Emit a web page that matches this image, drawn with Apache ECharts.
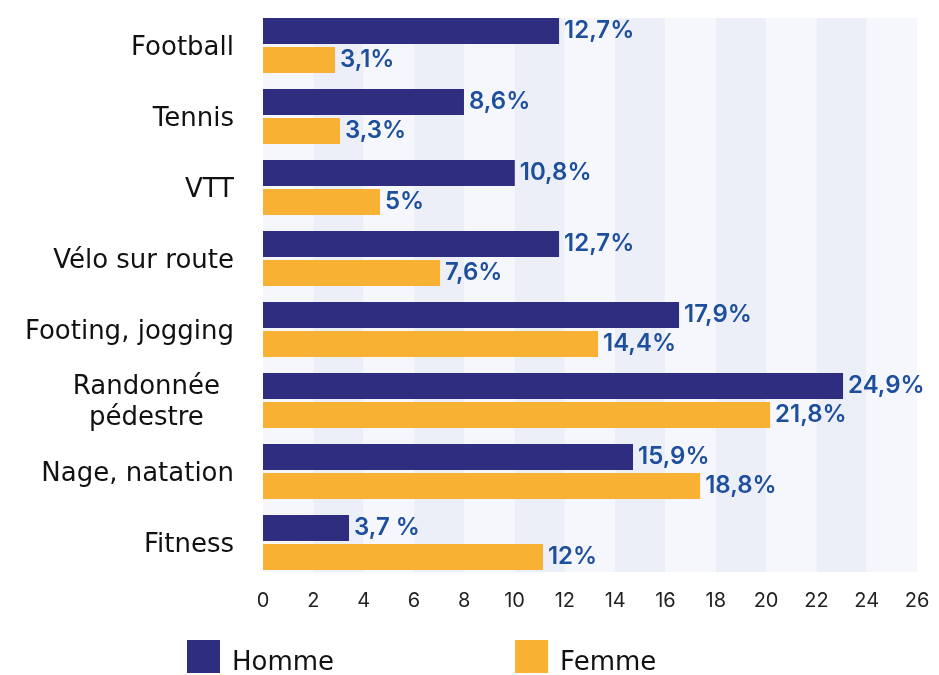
<!DOCTYPE html>
<html>
<head>
<meta charset="utf-8">
<script src="https://cdn.jsdelivr.net/npm/echarts@6/dist/echarts.min.js"></script>
<style>
  html, body { margin: 0; padding: 0; background: #fff; }
  #chart { width: 939px; height: 675px; }
</style>
</head>
<body>
<div id="chart"></div>
<script>
// sports, top to bottom
const categories = ['Football', 'Tennis', 'VTT', 'Vélo sur route', 'Footing, jogging', 'Randonnée\npédestre', 'Nage, natation', 'Fitness']
// bar lengths
const hommeValues = [11.77, 7.99, 10.01, 11.77, 16.54, 23.06, 14.71, 3.42]
const femmeValues = [2.86, 3.06, 4.65, 7.04, 13.32, 20.16, 17.38, 11.13]
// printed labels next to the bars
const hommeLabels = ['12,7%', '8,6%', '10,8%', '12,7%', '17,9%', '24,9%', '15,9%', '3,7 %']
const femmeLabels = ['3,1%', '3,3%', '5%', '7,6%', '14,4%', '21,8%', '18,8%', '12%']
const seriesNames = ['Homme', 'Femme']
const xMin = 0
const xMax = 26
const xStep = 2

const FONT = '"DejaVu Sans", sans-serif'
const NUM_FONT = 'Inter, sans-serif'
const chart = echarts.init(document.getElementById('chart'))

const valueLabel = (texts) => ({
  show: true,
  position: 'right',
  distance: 5,
  color: '#1d4f9c',
  fontFamily: NUM_FONT,
  fontSize: 24,
  fontWeight: 600,
  formatter: (p) => texts[p.dataIndex]
})

const option = {
  animation: false,
  grid: [
    { left: 263, right: 22, top: 10, height: 568 },
    { left: 263, right: 22, top: 18, height: 554 }
  ],
  legend: {
    data: seriesNames,
    left: 187,
    top: 640,
    padding: 0,
    icon: 'rect',
    itemWidth: 33,
    itemHeight: 33,
    itemGap: 181,
    formatter: '{t|{name}}',
    textStyle: {
      color: '#111',
      fontFamily: FONT,
      fontSize: 26,
      rich: { t: { color: '#111', fontFamily: FONT, fontSize: 26, padding: [14, 0, 0, 7] } }
    }
  },
  xAxis: [
    { gridIndex: 0, type: 'value', min: xMin, max: xMax, show: false },
    {
      gridIndex: 1,
      type: 'value',
      min: xMin,
      max: xMax,
      interval: xStep,
      axisLine: { show: false },
      axisTick: { show: false },
      splitLine: { show: false },
      splitArea: { show: true, areaStyle: { color: ['#f5f7fc', '#eceff8'] } },
      axisLabel: { color: '#222', fontFamily: NUM_FONT, fontSize: 20, margin: 19 }
    }
  ],
  yAxis: [
    {
      gridIndex: 0,
      type: 'category',
      data: categories,
      inverse: true,
      axisLine: { show: false },
      axisTick: { show: false },
      axisLabel: {
        margin: 29,
        color: '#111',
        fontFamily: FONT,
        fontSize: 26,
        lineHeight: 31,
        padding: [5, 0, 0, 0],
        formatter: (v) => v.includes('\n') ? v.split('\n').map(s => '{m|' + s + '}').join('\n') : v,
        rich: { m: { align: 'center', fontFamily: FONT, fontSize: 26, color: '#111', lineHeight: 31, padding: [0, 14, 0, 0] } }
      }
    },
    { gridIndex: 1, type: 'value', min: 0, max: 1, show: false }
  ],
  series: [
    {
      name: seriesNames[0],
      type: 'bar',
      xAxisIndex: 0,
      yAxisIndex: 0,
      data: hommeValues,
      barWidth: 26,
      barGap: '11.5%',
      itemStyle: { color: '#2e2d80' },
      label: valueLabel(hommeLabels)
    },
    {
      name: seriesNames[1],
      type: 'bar',
      xAxisIndex: 0,
      yAxisIndex: 0,
      data: femmeValues,
      barWidth: 26,
      barGap: '11.5%',
      itemStyle: { color: '#f8b133' },
      label: valueLabel(femmeLabels)
    }
  ]
}

chart.setOption(option)
</script>
</body>
</html>
